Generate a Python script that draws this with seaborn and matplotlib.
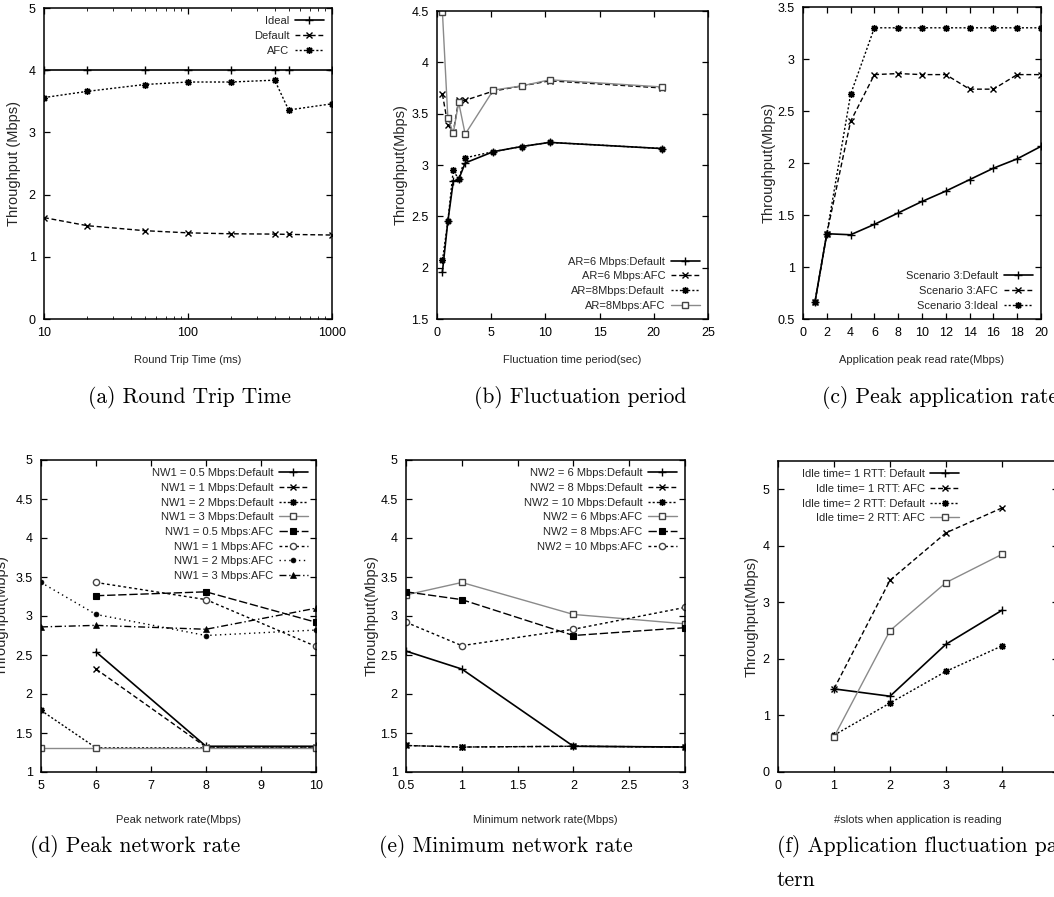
import numpy as np
import pandas as pd
import matplotlib
matplotlib.use("Agg")
import matplotlib.pyplot as plt
import seaborn as sns
from matplotlib.ticker import FuncFormatter, MultipleLocator, LogLocator, NullFormatter, FixedLocator

# ---------------- data ----------------
rtt_x = [10, 20, 50, 100, 200, 400, 500, 1000]
rtt_ideal = [4, 4, 4, 4, 4, 4, 4, 4]
rtt_default = [1.63, 1.50, 1.42, 1.385, 1.37, 1.365, 1.36, 1.35]
rtt_afc = [3.56, 3.66, 3.77, 3.81, 3.81, 3.84, 3.36, 3.46]

fluc_x = [0.5, 1, 1.5, 2, 2.6, 5.2, 7.8, 10.4, 20.8]
fluc_ar6_default = [1.96, 2.45, 2.84, 2.86, 3.02, 3.13, 3.18, 3.22, 3.16]
fluc_ar6_afc = [3.69, 3.39, 3.32, 3.63, 3.63, 3.72, 3.77, 3.82, 3.75]
fluc_ar8_default = [2.07, 2.45, 2.95, 2.86, 3.07, 3.13, 3.18, 3.22, 3.16]
fluc_ar8_afc = [4.49, 3.46, 3.31, 3.61, 3.30, 3.73, 3.77, 3.83, 3.76]

app_x = [1, 2, 4, 6, 8, 10, 12, 14, 16, 18, 20]
app_default = [0.66, 1.32, 1.31, 1.41, 1.52, 1.63, 1.73, 1.84, 1.95, 2.04, 2.16]
app_afc = [0.66, 1.32, 2.40, 2.85, 2.86, 2.85, 2.85, 2.71, 2.71, 2.85, 2.85]
app_ideal = [0.66, 1.32, 2.66, 3.30, 3.30, 3.30, 3.30, 3.30, 3.30, 3.30, 3.30]

peak_x = [5, 6, 8, 10]
nw1_05_default = [np.nan, 2.54, 1.33, 1.33]
nw1_1_default = [np.nan, 2.32, 1.32, 1.32]
nw1_2_default = [1.79, 1.31, 1.31, 1.31]
nw1_3_default = [1.31, 1.31, 1.31, 1.31]
nw1_05_afc = [np.nan, 3.26, 3.31, 2.92]
nw1_1_afc = [np.nan, 3.43, 3.21, 2.61]
nw1_2_afc = [3.43, 3.02, 2.75, 2.82]
nw1_3_afc = [2.86, 2.88, 2.83, 3.10]

min_x = [0.5, 1, 2, 3]
nw2_6_default = [2.55, 2.32, 1.33, 1.32]
nw2_8_default = [1.34, 1.32, 1.33, 1.32]
nw2_10_default = [1.34, 1.32, 1.33, 1.32]
nw2_6_afc = [3.27, 3.43, 3.02, 2.90]
nw2_8_afc = [3.31, 3.21, 2.75, 2.85]
nw2_10_afc = [2.92, 2.62, 2.83, 3.11]

slot_x = [1, 2, 3, 4]
idle1_default = [1.47, 1.34, 2.26, 2.86]
idle1_afc = [1.47, 3.39, 4.23, 4.67]
idle2_default = [0.65, 1.22, 1.78, 2.23]
idle2_afc = [0.62, 2.50, 3.35, 3.85]

# ---------------- style ----------------
sns.set_style("ticks")
NARROW = ["Liberation Sans Narrow", "Liberation Sans", "DejaVu Sans"]
plt.rcParams["font.family"] = NARROW
plt.rcParams["xtick.direction"] = "in"
plt.rcParams["ytick.direction"] = "in"
plt.rcParams["xtick.top"] = True
plt.rcParams["ytick.right"] = True

GREY = "#8a8a8a"
K = "black"
STYLES = {
    1: dict(color=K, linestyle="-", marker="+", linewidth=1.2, markersize=5.5,
            markeredgewidth=1.0, markeredgecolor=K),
    2: dict(color=K, linestyle=(0, (3.5, 2)), marker="x", linewidth=1.0, markersize=4,
            markeredgewidth=1.0, markeredgecolor=K),
    3: dict(color=K, linestyle=(0, (1.5, 1.5)), marker=(8, 2, 0), linewidth=1.0, markersize=5,
            markeredgewidth=1.0, markeredgecolor=K),
    4: dict(color=GREY, linestyle="-", marker="s", linewidth=1.0, markersize=4.5,
            markeredgewidth=1.0, markerfacecolor="white", markeredgecolor="#444444"),
    5: dict(color=K, linestyle=(0, (6, 2)), marker="s", linewidth=1.0, markersize=4.5,
            markeredgewidth=0.8, markerfacecolor=K, markeredgecolor=K),
    6: dict(color=K, linestyle=(0, (2, 2)), marker="o", linewidth=1.0, markersize=4.5,
            markeredgewidth=1.0, markerfacecolor="white", markeredgecolor="#444444"),
    7: dict(color=K, linestyle=(0, (1, 2.5)), marker="o", linewidth=1.0, markersize=3.5,
            markeredgewidth=0.5, markerfacecolor=K, markeredgecolor=K),
    8: dict(color=K, linestyle=(0, (5, 2, 1, 2)), marker="^", linewidth=1.0, markersize=4.5,
            markeredgewidth=0.5, markerfacecolor=K, markeredgecolor=K),
}


def draw(ax, x, y, st, label):
    df = pd.DataFrame({"x": x, "y": y}).dropna()
    sns.lineplot(data=df, x="x", y="y", ax=ax, label=label, sort=False,
                 estimator=None, **STYLES[st])


W, H = 1054, 897
fig = plt.figure(figsize=(W / 100, H / 100), dpi=100)


def make_ax(left, top, right, bottom):
    return fig.add_axes([left / W, 1 - bottom / H, (right - left) / W, (bottom - top) / H])


fmt = FuncFormatter(lambda v, p: "%g" % v)


def finish(ax, xlabel, ylabel, ylab_px, xlab_py, left, right, top, bottom):
    for s in ax.spines.values():
        s.set_linewidth(1.1)
        s.set_color("black")
    ax.tick_params(which="major", length=4.5, width=0.9, labelsize=9, pad=6, colors="black")
    ax.tick_params(which="minor", length=2.5, width=0.7)
    ax.yaxis.set_major_formatter(fmt)
    if ax.get_xscale() != "log":
        ax.xaxis.set_major_formatter(fmt)
    ax.set_xlabel(xlabel, fontsize=8, family=NARROW)
    ax.set_ylabel(ylabel, fontsize=10.5, family=["Liberation Sans", "DejaVu Sans"])
    ax.yaxis.label.set_verticalalignment("center")
    ax.yaxis.set_label_coords((ylab_px - left) / (right - left), 0.5)
    ax.xaxis.set_label_coords(0.5, -(xlab_py - bottom) / (bottom - top))
    ax.xaxis.label.set_verticalalignment("center")


def leg(ax, **kw):
    h, l = ax.get_legend_handles_labels()
    ax.legend(h, l, frameon=False, markerfirst=False, handlelength=2.6,
              prop={"family": NARROW, "size": 8}, labelspacing=0.42,
              handletextpad=0.5, borderaxespad=0.35, **kw)


# (a) Round trip time
L, T, R, B = 44, 8, 332, 319
ax = make_ax(L, T, R, B)
draw(ax, rtt_x, rtt_ideal, 1, "Ideal")
draw(ax, rtt_x, rtt_default, 2, "Default")
draw(ax, rtt_x, rtt_afc, 3, "AFC")
ax.set_xscale("log")
ax.set_xlim(10, 1000)
ax.set_ylim(0, 5)
ax.yaxis.set_major_locator(MultipleLocator(1))
ax.xaxis.set_major_locator(FixedLocator([10, 100, 1000]))
ax.xaxis.set_minor_locator(LogLocator(base=10, subs=np.arange(2, 10)))
ax.xaxis.set_minor_formatter(NullFormatter())
ax.xaxis.set_major_formatter(FuncFormatter(lambda v, p: "%d" % v))
finish(ax, "Round Trip Time (ms)", "Throughput (Mbps)", 14, 360, L, R, T, B)
leg(ax, loc="upper right")

# (b) Fluctuation period
L, T, R, B = 437, 11, 708, 319
ax = make_ax(L, T, R, B)
draw(ax, fluc_x, fluc_ar6_default, 1, "AR=6 Mbps:Default")
draw(ax, fluc_x, fluc_ar6_afc, 2, "AR=6 Mbps:AFC")
draw(ax, fluc_x, fluc_ar8_default, 3, "AR=8Mbps:Default")
draw(ax, fluc_x, fluc_ar8_afc, 4, "AR=8Mbps:AFC")
ax.set_xlim(0, 25)
ax.set_ylim(1.5, 4.5)
ax.xaxis.set_major_locator(MultipleLocator(5))
ax.yaxis.set_major_locator(MultipleLocator(0.5))
finish(ax, "Fluctuation time period(sec)", "Throughput(Mbps)", 401, 360, L, R, T, B)
leg(ax, loc="lower right")

# (c) Peak application rate
L, T, R, B = 803, 7, 1041, 319
ax = make_ax(L, T, R, B)
draw(ax, app_x, app_default, 1, "Scenario 3:Default")
draw(ax, app_x, app_afc, 2, "Scenario 3:AFC")
draw(ax, app_x, app_ideal, 3, "Scenario 3:Ideal")
ax.set_xlim(0, 20)
ax.set_ylim(0.5, 3.5)
ax.xaxis.set_major_locator(MultipleLocator(2))
ax.yaxis.set_major_locator(MultipleLocator(0.5))
finish(ax, "Application peak read rate(Mbps)", "Throughput(Mbps)", 769, 360, L, R, T, B)
leg(ax, loc="lower right")

# (d) Peak network rate
L, T, R, B = 41, 460, 316, 772
ax = make_ax(L, T, R, B)
draw(ax, peak_x, nw1_05_default, 1, "NW1 = 0.5 Mbps:Default")
draw(ax, peak_x, nw1_1_default, 2, "NW1 = 1 Mbps:Default")
draw(ax, peak_x, nw1_2_default, 3, "NW1 = 2 Mbps:Default")
draw(ax, peak_x, nw1_3_default, 4, "NW1 = 3 Mbps:Default")
draw(ax, peak_x, nw1_05_afc, 5, "NW1 = 0.5 Mbps:AFC")
draw(ax, peak_x, nw1_1_afc, 6, "NW1 = 1 Mbps:AFC")
draw(ax, peak_x, nw1_2_afc, 7, "NW1 = 2 Mbps:AFC")
draw(ax, peak_x, nw1_3_afc, 8, "NW1 = 3 Mbps:AFC")
ax.set_xlim(5, 10)
ax.set_ylim(1, 5)
ax.xaxis.set_major_locator(MultipleLocator(1))
ax.yaxis.set_major_locator(MultipleLocator(0.5))
finish(ax, "Peak network rate(Mbps)", "Throughput(Mbps)", 2, 820, L, R, T, B)
leg(ax, loc="upper right")

# (e) Minimum network rate
L, T, R, B = 406, 460, 685, 772
ax = make_ax(L, T, R, B)
draw(ax, min_x, nw2_6_default, 1, "NW2 = 6 Mbps:Default")
draw(ax, min_x, nw2_8_default, 2, "NW2 = 8 Mbps:Default")
draw(ax, min_x, nw2_10_default, 3, "NW2 = 10 Mbps:Default")
draw(ax, min_x, nw2_6_afc, 4, "NW2 = 6 Mbps:AFC")
draw(ax, min_x, nw2_8_afc, 5, "NW2 = 8 Mbps:AFC")
draw(ax, min_x, nw2_10_afc, 6, "NW2 = 10 Mbps:AFC")
ax.set_xlim(0.5, 3)
ax.set_ylim(1, 5)
ax.xaxis.set_major_locator(MultipleLocator(0.5))
ax.yaxis.set_major_locator(MultipleLocator(0.5))
finish(ax, "Minimum network rate(Mbps)", "Throughput(Mbps)", 372, 820, L, R, T, B)
leg(ax, loc="upper right")

# (f) Application fluctuation pattern
L, T, R, B = 778, 461, 1058, 772
ax = make_ax(L, T, R, B)
draw(ax, slot_x, idle1_default, 1, "Idle time= 1 RTT: Default")
draw(ax, slot_x, idle1_afc, 2, "Idle time= 1 RTT: AFC")
draw(ax, slot_x, idle2_default, 3, "Idle time= 2 RTT: Default")
draw(ax, slot_x, idle2_afc, 4, "Idle time= 2 RTT: AFC")
ax.set_xlim(0, 5)
ax.set_ylim(0, 5.5)
ax.xaxis.set_major_locator(MultipleLocator(1))
ax.yaxis.set_major_locator(MultipleLocator(1))
finish(ax, "#slots when application is reading", "Throughput(Mbps)", 752, 820, L, R, T, B)
leg(ax, loc="upper left", bbox_to_anchor=(0.055, 1.0))

# captions
CAP = dict(family=["cmr10", "DejaVu Serif"], fontsize=15.5, color="black")
fig.text(190 / W, 1 - 397 / H, "(a) Round Trip Time", ha="center", va="center", **CAP)
fig.text(580 / W, 1 - 397 / H, "(b) Fluctuation period", ha="center", va="center", **CAP)
fig.text(940 / W, 1 - 397 / H, "(c) Peak application rate", ha="center", va="center", **CAP)
fig.text(135 / W, 1 - 846 / H, "(d) Peak network rate", ha="center", va="center", **CAP)
fig.text(506 / W, 1 - 846 / H, "(e) Minimum network rate", ha="center", va="center", **CAP)
fig.text(777 / W, 1 - 846 / H, "(f) Application fluctuation pat-", ha="left", va="center", **CAP)
fig.text(777 / W, 1 - 880 / H, "tern", ha="left", va="center", **CAP)

fig.savefig("out.png", dpi=100)
